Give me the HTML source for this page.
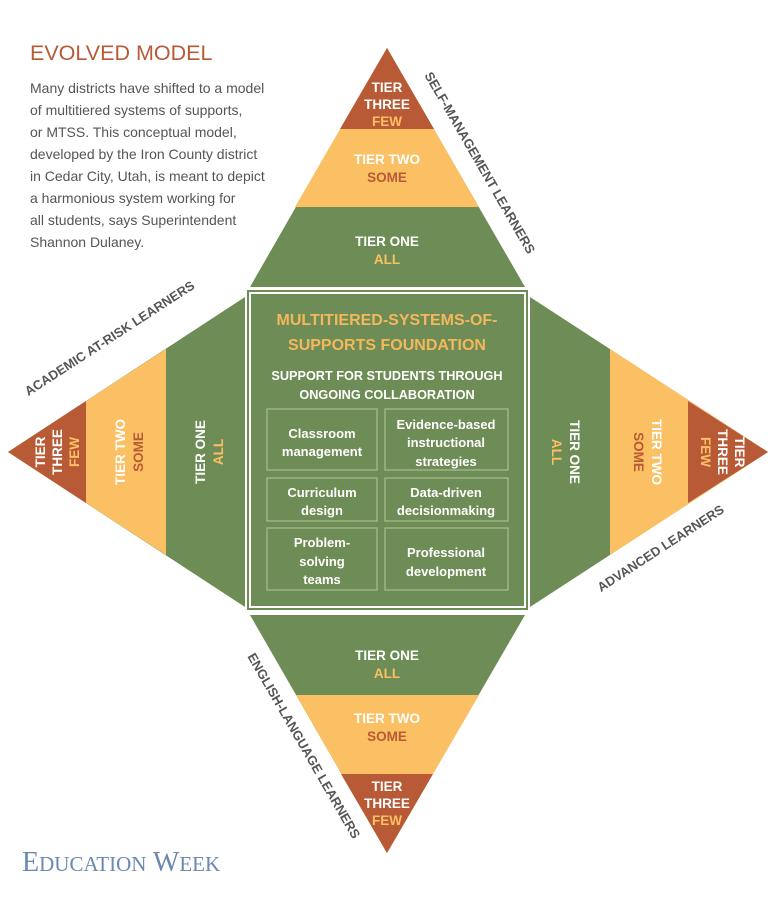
<!DOCTYPE html>
<html><head><meta charset="utf-8"><style>
body{margin:0;background:#fff}
svg text{font-family:"Liberation Sans Narrow","Liberation Sans",sans-serif;font-weight:bold}
.w{fill:#fff}.y{fill:#fbc063}.r{fill:#b85a36}.lab{fill:#555;font-size:13px}
.t{font-size:13.5px;text-anchor:middle}
</style></head><body>
<svg width="775" height="900" xmlns="http://www.w3.org/2000/svg">
<text x="30" y="60" style="font-family:'Liberation Sans',sans-serif;font-weight:normal;font-size:21.5px" fill="#b85a36">EVOLVED MODEL</text>
<g fill="#555">
<text x="30" y="93" style="font-weight:normal;font-size:14px">Many districts have shifted to a model</text>
<text x="30" y="115" style="font-weight:normal;font-size:14px">of multitiered systems of supports,</text>
<text x="30" y="137" style="font-weight:normal;font-size:14px">or MTSS. This conceptual model,</text>
<text x="30" y="159" style="font-weight:normal;font-size:14px">developed by the Iron County district</text>
<text x="30" y="181" style="font-weight:normal;font-size:14px">in Cedar City, Utah, is meant to depict</text>
<text x="30" y="203" style="font-weight:normal;font-size:14px">a harmonious system working for</text>
<text x="30" y="225" style="font-weight:normal;font-size:14px">all students, says Superintendent</text>
<text x="30" y="247" style="font-weight:normal;font-size:14px">Shannon Dulaney.</text>
</g>
<polygon points="387,48 525,287 250,287" fill="#6e8c55"/>
<polygon points="387,48 479,207 295,207" fill="#fbc063"/>
<polygon points="387,48 434,129 340,129" fill="#b85a36"/>
<text class="t w" x="387" y="92">TIER</text><text class="t w" x="387" y="109">THREE</text><text class="t y" x="387" y="126">FEW</text>
<text class="t w" x="387" y="164">TIER TWO</text><text class="t r" x="387" y="182">SOME</text>
<text class="t w" x="387" y="246">TIER ONE</text><text class="t y" x="387" y="264">ALL</text>
<polygon points="250,615 525,615 387,853" fill="#6e8c55"/>
<polygon points="296,695 479,695 387,853" fill="#fbc063"/>
<polygon points="341,774 433,774 387,853" fill="#b85a36"/>
<text class="t w" x="387" y="660">TIER ONE</text><text class="t y" x="387" y="678">ALL</text>
<text class="t w" x="387" y="723">TIER TWO</text><text class="t r" x="387" y="741">SOME</text>
<text class="t w" x="387" y="791">TIER</text><text class="t w" x="387" y="808">THREE</text><text class="t y" x="387" y="825">FEW</text>
<polygon points="8,452 245,297 245,607" fill="#6e8c55"/>
<polygon points="8,452 166,349 166,555" fill="#fbc063"/>
<polygon points="8,452 86,401 86,503" fill="#b85a36"/>
<g transform="translate(0,452) rotate(-90)">
<text class="t w" x="0" y="45">TIER</text><text class="t w" x="0" y="62">THREE</text><text class="t y" x="0" y="79">FEW</text>
<text class="t w" x="0" y="125">TIER TWO</text><text class="t r" x="0" y="143">SOME</text>
<text class="t w" x="0" y="205">TIER ONE</text><text class="t y" x="0" y="223">ALL</text>
</g>
<polygon points="530,297 768,452 530,607" fill="#6e8c55"/>
<polygon points="610,349 768,452 610,555" fill="#fbc063"/>
<polygon points="688,401 768,452 688,503" fill="#b85a36"/>
<g transform="translate(775,452) rotate(90)">
<text class="t w" x="0" y="205">TIER ONE</text><text class="t y" x="0" y="223">ALL</text>
<text class="t w" x="0" y="123">TIER TWO</text><text class="t r" x="0" y="141">SOME</text>
<text class="t w" x="0" y="40">TIER</text><text class="t w" x="0" y="57">THREE</text><text class="t y" x="0" y="74">FEW</text>
</g>
<rect x="247" y="290" width="281" height="320" fill="#6e8c55"/>
<rect x="250" y="293" width="275" height="314" fill="none" stroke="#fff" stroke-width="2"/>
<text x="387" y="325" text-anchor="middle" fill="#f4b85c" style="font-size:16px">MULTITIERED-SYSTEMS-OF-</text>
<text x="387" y="350" text-anchor="middle" fill="#f4b85c" style="font-size:16px">SUPPORTS FOUNDATION</text>
<text x="387" y="380" text-anchor="middle" class="w" style="font-size:12.7px">SUPPORT FOR STUDENTS THROUGH</text>
<text x="387" y="399" text-anchor="middle" class="w" style="font-size:12.7px">ONGOING COLLABORATION</text>
<g fill="none" stroke="#a9bf8f" stroke-width="1.2">
<rect x="267" y="409" width="110" height="61"/><rect x="385" y="409" width="123" height="61"/>
<rect x="267" y="478" width="110" height="43"/><rect x="385" y="478" width="123" height="43"/>
<rect x="267" y="528" width="110" height="62"/><rect x="385" y="528" width="123" height="62"/>
</g>
<g class="w" style="font-size:13px" text-anchor="middle">
<text x="322" y="438">Classroom</text><text x="322" y="456">management</text>
<text x="446" y="429">Evidence-based</text><text x="446" y="447">instructional</text><text x="446" y="466">strategies</text>
<text x="322" y="497">Curriculum</text><text x="322" y="515">design</text>
<text x="446" y="497">Data-driven</text><text x="446" y="515">decisionmaking</text>
<text x="322" y="547">Problem-</text><text x="322" y="566">solving</text><text x="322" y="584">teams</text>
<text x="446" y="557">Professional</text><text x="446" y="576">development</text>
</g>
<text class="lab" transform="translate(476,165) rotate(60)" text-anchor="middle">SELF-MANAGEMENT LEARNERS</text>
<text class="lab" transform="translate(112,342) rotate(-33)" text-anchor="middle">ACADEMIC AT-RISK LEARNERS</text>
<text class="lab" transform="translate(663,552) rotate(-33)" text-anchor="middle">ADVANCED LEARNERS</text>
<text class="lab" transform="translate(300,748) rotate(60)" text-anchor="middle">ENGLISH-LANGUAGE LEARNERS</text>
<text x="22" y="871" fill="#6a88b0" style="font-family:'Liberation Serif',serif;font-weight:normal;font-size:28px">E<tspan style="font-size:21px">DUCATION</tspan> W<tspan style="font-size:21px">EEK</tspan></text>
</svg>
</body></html>
